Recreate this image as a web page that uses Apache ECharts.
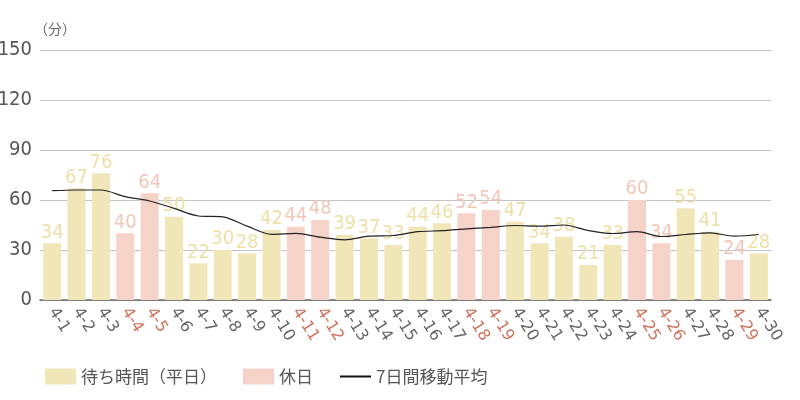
<!DOCTYPE html>
<html>
<head>
    <meta charset="utf-8">
    <title>待ち時間</title>
    <script src="https://cdn.jsdelivr.net/npm/echarts@6/dist/echarts.min.js"></script>
    <style>
        html, body { margin: 0; padding: 0; background: #fff; }
        #chart1 { width: 800px; height: 400px; }
    </style>
</head>
<body>
<div id="chart1"></div>
<script type="text/javascript">
    // 日付
    var days = ['4-1','4-2','4-3','4-4','4-5','4-6','4-7','4-8','4-9','4-10',
        '4-11','4-12','4-13','4-14','4-15','4-16','4-17','4-18','4-19','4-20',
        '4-21','4-22','4-23','4-24','4-25','4-26','4-27','4-28','4-29','4-30'];
    // 待ち時間（分）
    var waitTimes = [34,67,76,40,64,50,22,30,28,42,44,48,39,37,33,44,46,52,54,47,
        34,38,21,33,60,34,55,41,24,28];
    // 休日のインデックス
    var holidays = [3,4,10,11,17,18,24,25,28];
    // 7日間移動平均
    var movingAvg = [65.6,66,66,62,59.4,55,50.4,49.9,44.3,39.4,40,37.7,36.1,38.3,38.7,
        41,41.6,42.7,43.6,44.7,44.3,45,41.7,39.9,41,38.1,39.3,40.3,38.3,39.3];
    var yTicks = [0,30,60,90,120,150];

    var weekdayColor = '#f0e6b8';
    var holidayColor = '#f5d3c8';
    var labelFont = '"DejaVu Sans Condensed", "Roboto", sans-serif';
    var cjkFont = 'Noto Sans CJK JP';

    var weekdayData = waitTimes.map(function (v, i) { return holidays.indexOf(i) < 0 ? v : '-'; });
    var holidayData = waitTimes.map(function (v, i) { return holidays.indexOf(i) >= 0 ? v : '-'; });

    var myChart1 = echarts.init(document.getElementById('chart1'));
    myChart1.setOption({
        animation: false,
        grid: { left: 40, right: 29, top: 50, bottom: 100, containLabel: false, outerBoundsMode: 'none' },
        graphic: [{
            type: 'text', left: 34, top: 22,
            style: { text: '（分）', fill: '#666', font: '14px "' + cjkFont + '"' }
        }],
        legend: {
            bottom: 10, left: 40,
            itemWidth: 31, itemHeight: 16, itemGap: 26,
            textStyle: { color: '#555', fontSize: 17, fontFamily: cjkFont },
            data: [
                { name: '待ち時間（平日）', icon: 'rect' },
                { name: '休日', icon: 'rect' },
                { name: '7日間移動平均', itemStyle: { opacity: 0 }, lineStyle: { color: '#111', width: 2 } }
            ]
        },
        xAxis: {
            type: 'category',
            data: days,
            axisLine: { lineStyle: { color: '#666', width: 1.5 } },
            axisTick: { show: false },
            axisLabel: {
                interval: 0,
                rotate: -58,
                margin: 9,
                fontSize: 16,
                fontFamily: 'DejaVu Sans',
                color: function (value, index) {
                    return holidays.indexOf(index) >= 0 ? '#d0735c' : '#666';
                }
            }
        },
        yAxis: {
            type: 'value',
            min: yTicks[0], max: yTicks[yTicks.length - 1], interval: 30,
            axisLine: { show: false },
            axisTick: { show: false },
            axisLabel: { color: '#555', fontSize: 20, fontFamily: labelFont, margin: 8 },
            splitLine: { lineStyle: { color: '#c4c4c4', width: 1 } }
        },
        series: [{
            name: '待ち時間（平日）',
            type: 'bar',
            barWidth: 18,
            barGap: '-100%',
            itemStyle: { color: weekdayColor },
            label: { show: true, position: 'top', distance: 1, color: '#eee0a8', fontSize: 20, fontFamily: labelFont },
            data: weekdayData
        }, {
            name: '休日',
            type: 'bar',
            barWidth: 18,
            barGap: '-100%',
            itemStyle: { color: holidayColor },
            label: { show: true, position: 'top', distance: 1, color: '#f2c6b8', fontSize: 20, fontFamily: labelFont },
            data: holidayData
        }, {
            name: '7日間移動平均',
            type: 'line',
            smooth: 0.3,
            symbol: 'none',
            z: 5,
            lineStyle: { color: '#222', width: 1.2 },
            itemStyle: { color: '#222' },
            data: movingAvg
        }]
    });
</script>
</body>
</html>
